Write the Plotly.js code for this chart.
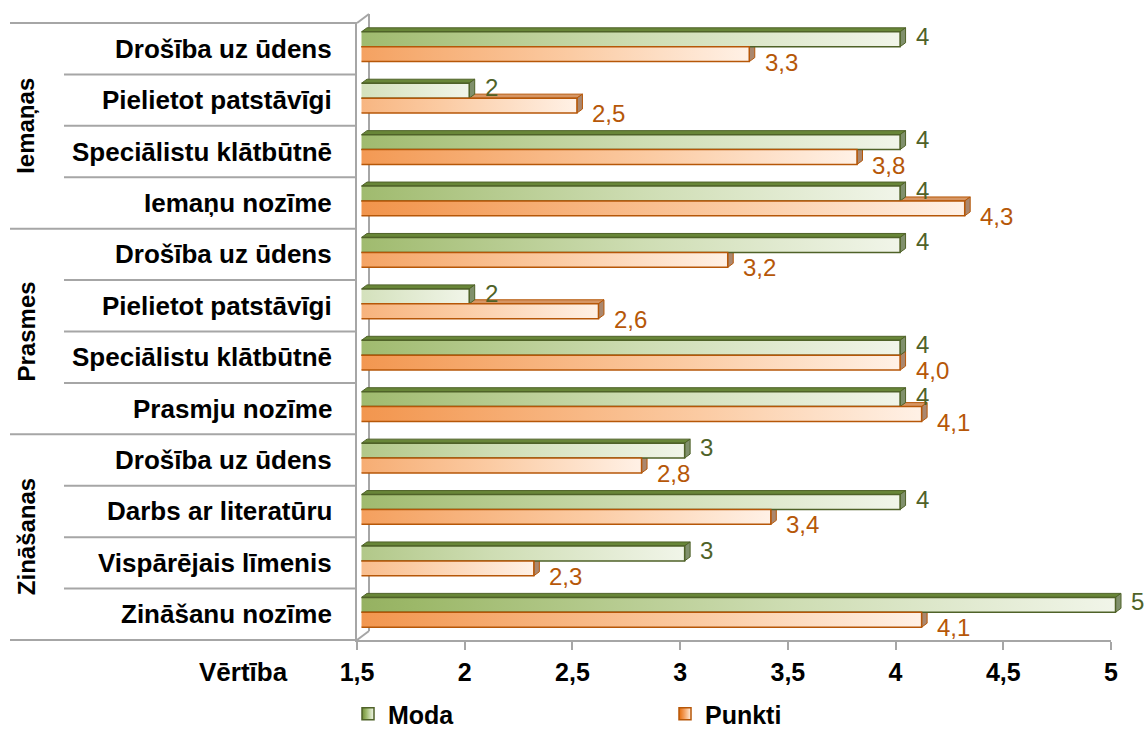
<!DOCTYPE html>
<html>
<head>
<meta charset="utf-8">
<script src="https://cdn.plot.ly/plotly-3.0.1.min.js"></script>
<style>
html,body{margin:0;padding:0;background:#fff;}
#chart{width:1148px;height:731px;}
</style>
</head>
<body>
<div id="chart"></div>
<script>
// ---- data ----
const groups = ["Iemaņas", "Prasmes", "Zināšanas"];
const categories = [
  "Drošība uz ūdens", "Pielietot patstāvīgi", "Speciālistu klātbūtnē", "Iemaņu nozīme",
  "Drošība uz ūdens", "Pielietot patstāvīgi", "Speciālistu klātbūtnē", "Prasmju nozīme",
  "Drošība uz ūdens", "Darbs ar literatūru", "Vispārējais līmenis", "Zināšanu nozīme"
];
const groupSizes = [4, 4, 4];
const moda =   [4, 2, 4, 4,   4, 2, 4, 4,   3, 4, 3, 5];
const punkti = [3.3, 2.5, 3.8, 4.3,   3.2, 2.6, 4.0, 4.1,   2.8, 3.4, 2.3, 4.1];
const seriesNames = ["Moda", "Punkti"];
const xTitle = "Vērtība";

// ---- geometry / style ----
const W = 1148, H = 731;
const M = {l: 357, r: 26, t: 23, b: 91, autoexpand: false};
const PW = W - M.l - M.r, PH = H - M.t - M.b;
const axisPx = 754;                // width of tick axis
const xMin = 1.5, xMax = 5;
const pxPerUnit = axisPx / (xMax - xMin);
const barShift = 4.5;              // 3D offset of bars (px)
const n = categories.length;
const rowPx = PH / n;
const yShiftRows = 2 / rowPx;
const dxU = 5.5 / pxPerUnit, dyU = 4 / rowPx;
const bargap = 0.42;
const halfBar = (1 - bargap) / 4;  // half of one bar width in row units

const FONT = "Liberation Sans, Arial, sans-serif";
const GRAY = "#A6A6A6";
const GREEN_LINE = "#4F6228", ORANGE_LINE = "#B65708";
const GREEN_TXT = "#4F6228", ORANGE_TXT = "#B65708";

const px2x = p => (p - M.l) / PW;
const px2y = p => (M.t + PH - p) / PH;

const yIdx = categories.map((_, i) => i);

const data = [
  {x: [], y: [], type: "scatter", mode: "markers", showlegend: false, hoverinfo: "skip"},
  {
    type: "bar", orientation: "h", name: seriesNames[0],
    x: moda, y: yIdx, xaxis: "x2", yaxis: "y2",
    marker: {color: "#A9C47F", line: {color: GREEN_LINE, width: 1.5}},
    hoverinfo: "x"
  },
  {
    type: "bar", orientation: "h", name: seriesNames[1],
    x: punkti, y: yIdx, xaxis: "x2", yaxis: "y2",
    marker: {color: "#F5A86B", line: {color: ORANGE_LINE, width: 1.5}},
    hoverinfo: "x"
  }
];

// ---- 3D faces (top & side) derived from values ----
const shapes = [];
function faces(vals, sign, topCol, sideCol, lineCol) {
  vals.forEach((v, i) => {
    const yc = i + sign * halfBar;
    const yT = yc - halfBar, yB = yc + halfBar;
    shapes.push({type: "path", xref: "x2", yref: "y2", layer: "below",
      path: `M ${xMin},${yT} L ${v},${yT} L ${v + dxU},${yT - dyU} L ${xMin + dxU},${yT - dyU} Z`,
      fillcolor: topCol, line: {color: lineCol, width: 1}});
    shapes.push({type: "path", xref: "x2", yref: "y2", layer: "below",
      path: `M ${v},${yT} L ${v + dxU},${yT - dyU} L ${v + dxU},${yB - dyU} L ${v},${yB} Z`,
      fillcolor: sideCol, line: {color: lineCol, width: 1}});
  });
}
faces(punkti, +1, "rgb(214,150,100)", "rgb(170,135,110)", ORANGE_LINE);
faces(moda, -1, "rgb(104,134,56)", "rgb(128,144,108)", GREEN_LINE);

// ---- left label panel lines and 3D wall ----
function seg(x0, y0, x1, y1) {
  shapes.push({type: "line", xref: "paper", yref: "paper", layer: "below",
    x0: px2x(x0), x1: px2x(x1), y0: px2y(y0), y1: px2y(y1),
    line: {color: GRAY, width: 2}});
}
let start = 0;
const groupStarts = [];
groupSizes.forEach(s => { groupStarts.push(start); start += s; });
for (let k = 0; k <= n; k++) {
  const yPx = M.t + k * rowPx;
  const isGroupEdge = k === 0 || k === n || groupStarts.includes(k);
  seg(isGroupEdge ? 10 : 64, yPx, M.l, yPx);
}
// 3D wall
seg(M.l, M.t, M.l + 12, M.t - 9);
seg(M.l + 12, M.t - 9, M.l + 12, M.t + PH - 9);
seg(M.l, M.t + PH, M.l + 12, M.t + PH - 9);

// ---- annotations ----
const annotations = [];
categories.forEach((c, i) => {
  annotations.push({text: c, xref: "paper", yref: "y", x: px2x(334), y: i,
    xanchor: "right", yanchor: "middle", showarrow: false,
    font: {family: FONT, size: 26, color: "#000", weight: "bold"}});
});
groupStarts.forEach((s, g) => {
  annotations.push({text: groups[g], xref: "paper", yref: "y", x: px2x(26),
    y: s + (groupSizes[g] - 1) / 2, textangle: -90, xanchor: "center", yanchor: "middle",
    showarrow: false, font: {family: FONT, size: 24, color: "#000", weight: "bold"}});
});
annotations.push({text: xTitle, xref: "paper", yref: "paper", x: px2x(290), y: px2y(672),
  xanchor: "right", yanchor: "middle", showarrow: false,
  font: {family: FONT, size: 26, color: "#000", weight: "bold"}});

const fmt1 = v => v.toFixed(1).replace(".", ",");
moda.forEach((v, i) => {
  annotations.push({text: String(v), xref: "x2", yref: "y2", x: v + dxU, y: i - halfBar,
    xanchor: "left", yanchor: "middle", xshift: 8, yshift: 3, showarrow: false,
    font: {family: FONT, size: 24, color: GREEN_TXT}});
});
punkti.forEach((v, i) => {
  annotations.push({text: fmt1(v), xref: "x2", yref: "y2", x: v + dxU, y: i + halfBar,
    xanchor: "left", yanchor: "middle", xshift: 8, yshift: -8, showarrow: false,
    font: {family: FONT, size: 24, color: ORANGE_TXT}});
});

const layout = {
  width: W, height: H,
  margin: M,
  paper_bgcolor: "#fff", plot_bgcolor: "rgba(0,0,0,0)",
  separators: ",.",
  barmode: "group", bargap: bargap, bargroupgap: 0,
  showlegend: true,
  legend: {orientation: "h", x: px2x(348), xanchor: "left", y: px2y(714), yanchor: "middle",
    traceorder: "normal", entrywidth: 272, entrywidthmode: "pixels",
    font: {family: FONT, size: 25, color: "#000", weight: "bold"}, bgcolor: "rgba(0,0,0,0)"},
  xaxis: {domain: [0, axisPx / PW], range: [xMin, xMax], dtick: 0.5, tick0: 1.5,
    showgrid: false, zeroline: false, showline: true, linecolor: GRAY, linewidth: 2,
    ticks: "outside", ticklen: 8, tickwidth: 2, tickcolor: GRAY, ticklabelstandoff: 1,
    tickfont: {family: FONT, size: 25, color: "#000", weight: "bold"}, anchor: "y", automargin: false},
  yaxis: {domain: [0, 1], range: [n - 0.5, -0.5], showgrid: false, zeroline: false,
    showticklabels: false, ticks: "", showline: true, linecolor: GRAY, linewidth: 2, anchor: "x"},
  xaxis2: {domain: [barShift / PW, 1],
    range: [xMin, xMin + (PW - barShift) / pxPerUnit],
    visible: false, anchor: "y2"},
  yaxis2: {domain: [0, 1], range: [n - 0.5 + yShiftRows, -0.5 + yShiftRows],
    visible: false, anchor: "x2"},
  shapes: shapes,
  annotations: annotations
};

const gd = document.getElementById("chart");
Plotly.newPlot(gd, data, layout, {displayModeBar: false, staticPlot: true}).then(() => {
  const ns = "http://www.w3.org/2000/svg";
  const svg = gd.querySelector("svg.main-svg");
  let defs = svg.querySelector("defs");
  if (!defs) { defs = document.createElementNS(ns, "defs"); svg.insertBefore(defs, svg.firstChild); }
  function mk(id, stops) {
    const g = document.createElementNS(ns, "linearGradient");
    g.setAttribute("id", id);
    g.setAttribute("x1", "0"); g.setAttribute("y1", "0");
    g.setAttribute("x2", "1"); g.setAttribute("y2", "0");
    stops.forEach(([o, c]) => {
      const s = document.createElementNS(ns, "stop");
      s.setAttribute("offset", o); s.setAttribute("stop-color", c);
      g.appendChild(s);
    });
    defs.appendChild(g);
  }
  mk("gradModa", [[0, "#6E8A34"], [0.35, "#9CB869"], [0.7, "#CEDDB3"], [1, "#F1F5E9"]]);
  mk("gradPunkti", [[0, "#E46C0A"], [0.4, "#F39A55"], [0.75, "#FBCBA3"], [1, "#FFF1E6"]]);
  const grads = {Moda: "url(#gradModa)", Punkti: "url(#gradPunkti)"};
  const traces = gd.querySelectorAll(".barlayer .trace");
  traces.forEach((t, k) => {
    const g = k === 0 ? grads.Moda : grads.Punkti;
    t.querySelectorAll("path").forEach(p => { p.style.fill = g; });
  });
  gd.querySelectorAll(".legend .traces").forEach(t => {
    const txt = (t.querySelector(".legendtext") || {}).textContent || "";
    const g = grads[txt];
    if (g) t.querySelectorAll(".legendpoints path").forEach(p => { p.style.fill = g; });
  });
});
</script>
</body>
</html>
